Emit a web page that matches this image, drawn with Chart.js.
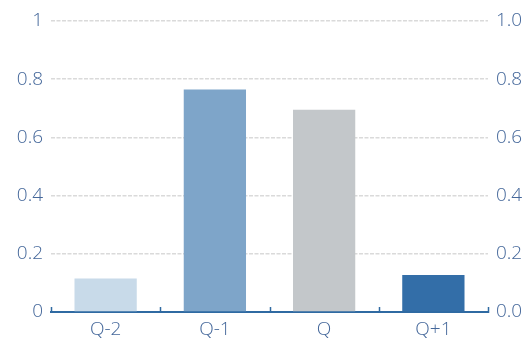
<!DOCTYPE html>
<html>
<head>
<meta charset="utf-8">
<script src="https://cdn.jsdelivr.net/npm/chart.js@4.4.1/dist/chart.umd.min.js"></script>
<style>
  html, body { margin: 0; padding: 0; background: #fff; }
  #wrap { width: 527px; height: 343px; }
</style>
</head>
<body>
<div id="wrap"><canvas id="quarters" width="527" height="343"></canvas></div>
<script>
const quarters = ['Q-2', 'Q-1', 'Q', 'Q+1'];
const shares = [0.115, 0.765, 0.695, 0.127];
const barColors = ['#c8dae9', '#7ea5c9', '#c3c7ca', '#336ea8'];
const leftTicks = [0, 0.2, 0.4, 0.6, 0.8, 1];

const labelColor = '#44679a';
const axisColor = '#2f6aa2';
const labelFont = { family: '"Open Sans"', size: 19, weight: '300' };

// little upward ticks on the baseline, between categories
const baseTicks = {
    id: 'baseTicks',
    afterDraw(chart) {
        const x = chart.scales.x;
        const ctx = chart.ctx;
        ctx.save();
        ctx.strokeStyle = axisColor;
        ctx.lineWidth = 1.5;
        for (let i = 0; i <= quarters.length; i++) {
            const px = Math.round(x.getPixelForValue(i - 0.5)) + 0.5;
            ctx.beginPath();
            ctx.moveTo(px, x.top - 5);
            ctx.lineTo(px, x.top + 1);
            ctx.stroke();
        }
        ctx.restore();
    }
};

const ctx = document.getElementById('quarters').getContext('2d');
new Chart(ctx, {
    type: 'bar',
    data: {
        labels: quarters,
        datasets: [{
            data: shares,
            backgroundColor: barColors,
            categoryPercentage: 1,
            barPercentage: 0.57
        }]
    },
    options: {
        responsive: false,
        animation: false,
        layout: { padding: { top: 21, right: 0, left: 0, bottom: 0 } },
        plugins: {
            legend: { display: false },
            tooltip: { enabled: false }
        },
        scales: {
            x: {
                grid: { display: false, drawTicks: false },
                border: { display: true, color: axisColor, width: 2 },
                ticks: { color: labelColor, font: labelFont, padding: 6 },
                afterFit(scale) { scale.height = 31; }
            },
            y: {
                position: 'left',
                min: 0,
                max: 1,
                afterBuildTicks(scale) { scale.ticks = leftTicks.map(v => ({ value: v })); },
                ticks: {
                    color: labelColor,
                    font: labelFont,
                    padding: 8,
                    callback: v => String(v)
                },
                grid: { color: '#dadada', lineWidth: 1.5, drawTicks: false },
                border: { display: false, dash: [4, 1.5] },
                afterFit(scale) { scale.width = 51; }
            },
            y2: {
                position: 'right',
                min: 0,
                max: 1,
                afterBuildTicks(scale) { scale.ticks = leftTicks.map(v => ({ value: v })); },
                ticks: {
                    color: labelColor,
                    font: labelFont,
                    padding: 8,
                    callback: v => v.toFixed(1)
                },
                grid: { display: false, drawTicks: false },
                border: { display: false },
                afterFit(scale) { scale.width = 39; }
            }
        }
    },
    plugins: [baseTicks]
});
</script>
</body>
</html>
